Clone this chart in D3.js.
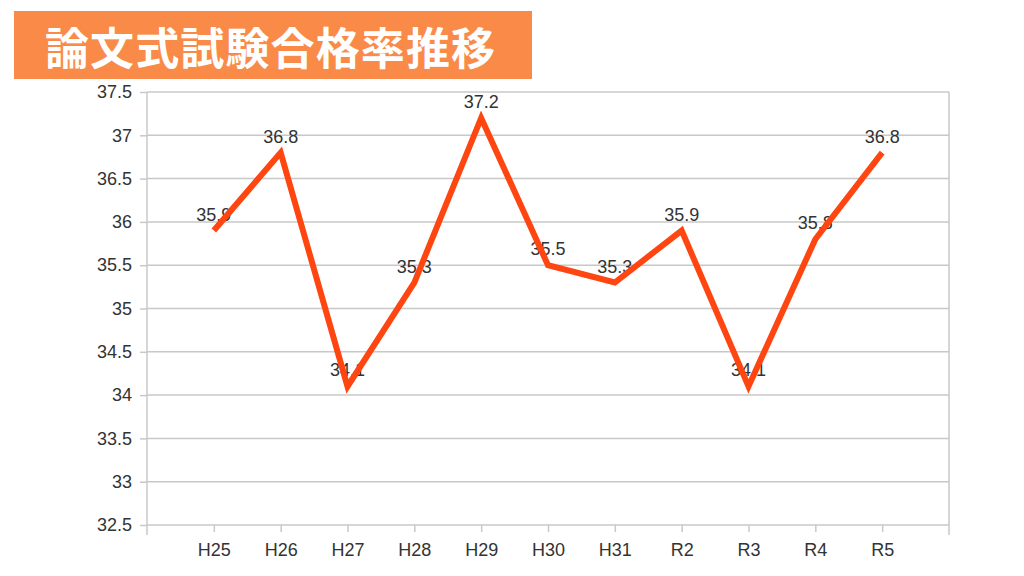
<!DOCTYPE html>
<html><head><meta charset="utf-8">
<script src="https://cdn.jsdelivr.net/npm/d3@7"></script>
<style>html,body{margin:0;padding:0;background:#fff;}svg{display:block;}</style>
</head><body>
<svg id="c" width="1024" height="576"></svg>
<script>
const title = "論文式試験合格率推移";
const categories = ["H25","H26","H27","H28","H29","H30","H31","R2","R3","R4","R5"];
const values = [35.9, 36.8, 34.1, 35.3, 37.2, 35.5, 35.3, 35.9, 34.1, 35.8, 36.8];
const yTicks = [32.5, 33, 33.5, 34, 34.5, 35, 35.5, 36, 36.5, 37, 37.5];

(function(){
const svg = d3.select("#c");
const pL = 147, pR = 949, pT = 92, pB = 525;
const grid = "#c8c8c8", txt = "#333333";

// title box
svg.append("rect").attr("x",14).attr("y",11).attr("width",518).attr("height",68).attr("fill","#fa8a48");
svg.append("text").attr("x",45).attr("y",46)
  .attr("dominant-baseline","central")
  .attr("font-family","'Noto Sans CJK JP'").attr("font-weight",700)
  .attr("font-size",44).attr("textLength",450).attr("lengthAdjust","spacing")
  .attr("fill","#fff").text(title);

const x = d3.scaleLinear().domain([0, categories.length + 1]).range([pL, pR]);
const y = d3.scaleLinear().domain([32.5, 37.5]).range([pB, pT]);

// left ticks + labels
const yAxis = svg.append("g").attr("transform",`translate(${pL},0)`)
  .call(d3.axisLeft(y).tickValues(yTicks).tickSize(7).tickFormat(d3.format("")));
yAxis.select(".domain").remove();
yAxis.selectAll("line").attr("stroke",grid).attr("stroke-width",1.5);
yAxis.selectAll("text").attr("font-family","'Liberation Sans', Arial, sans-serif")
  .attr("font-size",18).attr("fill",txt).attr("x",-15);
// horizontal gridlines
svg.append("g").selectAll("line").data(yTicks).join("line")
  .attr("x1",pL).attr("x2",pR).attr("y1",d=>y(d)).attr("y2",d=>y(d))
  .attr("stroke",grid).attr("stroke-width",1.5);

// vertical axis lines
[pL, pR].forEach(px => svg.append("line").attr("x1",px).attr("x2",px)
  .attr("y1",pT).attr("y2",pB+10).attr("stroke",grid).attr("stroke-width",1.5));

// x axis ticks & labels
const xAxis = svg.append("g").attr("transform",`translate(0,${pB})`)
  .call(d3.axisBottom(x).tickValues(d3.range(1, categories.length + 1))
    .tickSize(7).tickFormat(i => categories[i-1]));
xAxis.select(".domain").remove();
xAxis.selectAll("line").attr("stroke",grid).attr("stroke-width",1.5);
xAxis.selectAll("text").attr("font-family","'Liberation Sans', Arial, sans-serif")
  .attr("font-size",18).attr("fill",txt).attr("y",18);

// data labels (under line)
svg.append("g").selectAll("text").data(values).join("text")
  .attr("x",(d,i)=>x(i+1)).attr("y",d=>y(d)-10).attr("text-anchor","middle")
  .attr("font-family","'Liberation Sans', Arial, sans-serif").attr("font-size",18)
  .attr("fill",txt).text(d=>d);

// line
const line = d3.line().x((d,i)=>x(i+1)).y(d=>y(d));
svg.append("path").datum(values).attr("d",line).attr("fill","none")
  .attr("stroke","#ff4510").attr("stroke-width",6).attr("stroke-linejoin","miter");
})();
</script>
</body></html>
